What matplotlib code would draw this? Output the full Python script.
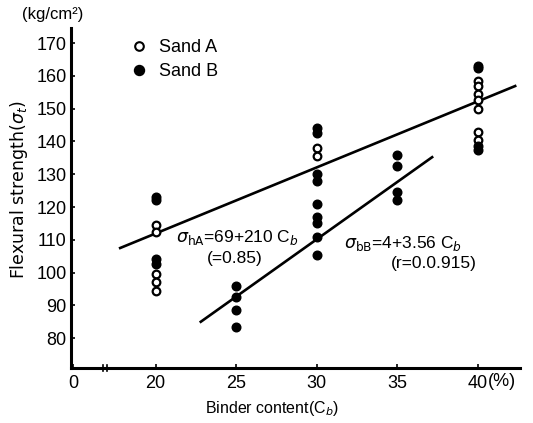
import matplotlib
matplotlib.use("Agg")
import matplotlib.pyplot as plt
from matplotlib.lines import Line2D

# ---- data ----
sandA_x = [20, 20, 20, 20, 20, 30, 30, 40, 40, 40, 40, 40, 40, 40]
sandA_y = [114.5, 112.5, 99.5, 97, 94.5, 138, 135.5, 158.5, 157, 154.5, 152.5, 150, 143, 140.5]

sandB_x = [20, 20, 20, 20, 25, 25, 25, 25, 30, 30, 30, 30, 30, 30, 30, 30, 30, 35, 35, 35, 35, 40, 40, 40, 40]
sandB_y = [123, 122, 104, 102.5, 96, 92.5, 88.5, 83.5, 144, 142.5, 130, 128, 121, 117, 115, 111, 105.5,
           136, 132.5, 124.5, 122, 163, 162.5, 138.5, 137.5]

lineA_x = [17.8, 42.3]
lineA_y = [107.5, 156.9]
lineB_x = [22.8, 37.15]
lineB_y = [85.0, 135.2]

xticks = [14.9, 20, 25, 30, 35, 40]
xticklabels = ["0", "20", "25", "30", "35", "40"]
yticks = [80, 90, 100, 110, 120, 130, 140, 150, 160, 170]

NUM = ["Liberation Sans", "DejaVu Sans"]
SANS = ["Liberation Sans", "DejaVu Sans"]

fig = plt.figure(figsize=(5.33, 4.23), dpi=100)
ax = fig.add_axes([71/533, 1 - 368/423, (520-71)/533, (368-28)/423])

ax.plot(sandA_x, sandA_y, linestyle="none", marker="o", markersize=5.5,
        markerfacecolor="white", markeredgecolor="black", markeredgewidth=1.6, zorder=3)
ax.plot(sandB_x, sandB_y, linestyle="none", marker="o", markersize=6.2,
        markerfacecolor="black", markeredgecolor="black", zorder=3)
ax.plot(lineA_x, lineA_y, color="black", lw=1.9, zorder=2)
ax.plot(lineB_x, lineB_y, color="black", lw=1.9, zorder=2)

ax.set_xlim(14.75, 42.6)
ax.set_ylim(70.9, 174.6)
ax.spines["top"].set_visible(False)
ax.spines["right"].set_visible(False)
ax.spines["left"].set_linewidth(2.2)
ax.spines["bottom"].set_linewidth(2.2)

ax.set_xticks(xticks)
ax.set_xticklabels(xticklabels, fontfamily=NUM, fontsize=13)
ax.set_yticks(yticks)
ax.set_yticklabels([str(v) for v in yticks], fontfamily=NUM, fontsize=13)
ax.tick_params(axis="both", direction="in", length=3, width=1.2, pad=3)
ax.tick_params(axis="x", pad=5)

# axis break marks
for dx in (-0.12, 0.12):
    ax.plot([16.85 + dx, 16.85 + dx], [70.9 - 0.8, 70.9 + 0.8], color="black", lw=1.2,
            clip_on=False)

# legend
handles = [Line2D([], [], linestyle="none", marker="o", markersize=6.2, markerfacecolor="white",
                  markeredgecolor="black", markeredgewidth=1.5),
           Line2D([], [], linestyle="none", marker="o", markersize=7.2, markerfacecolor="black",
                  markeredgecolor="black")]
ax.legend(handles, ["Sand A", "Sand B"], loc="upper left", bbox_to_anchor=(0.095, 1.015),
          frameon=False, handlelength=1.0, handletextpad=0.6, labelspacing=0.4,
          prop={"family": SANS, "size": 13})

# equations
ax.text(21.25, 110.6, r"$\sigma_{\mathrm{hA}}$=69+210 C$_b$", fontfamily=NUM, fontsize=12.5,
        va="center", ha="left")
ax.text(23.2, 104.4, "(=0.85)", fontfamily=NUM, fontsize=12.5, va="center", ha="left")
ax.text(31.7, 109.0, r"$\sigma_{\mathrm{bB}}$=4+3.56 C$_b$", fontfamily=NUM, fontsize=12.5,
        va="center", ha="left")
ax.text(34.6, 102.9, "(r=0.0.915)", fontfamily=NUM, fontsize=12.5, va="center", ha="left")

# units and labels
fig.text(22/533, 1 - 15/423, "(kg/cm²)", fontfamily=SANS, fontsize=12, va="center", ha="left")
fig.text(502/533, 1 - 381/423, "(%)", fontfamily=NUM, fontsize=13, va="center", ha="center")
fig.text(272/533, 1 - 408/423, "Binder content(C$_b$)", fontfamily=SANS, fontsize=11.5,
         va="center", ha="center")
fig.text(19/533, 1 - 190/423, r"Flexural strength($\sigma_t$)", fontfamily=["DejaVu Sans"],
         fontsize=12.5, va="center", ha="center", rotation=90)

fig.savefig("out.png", dpi=100)
